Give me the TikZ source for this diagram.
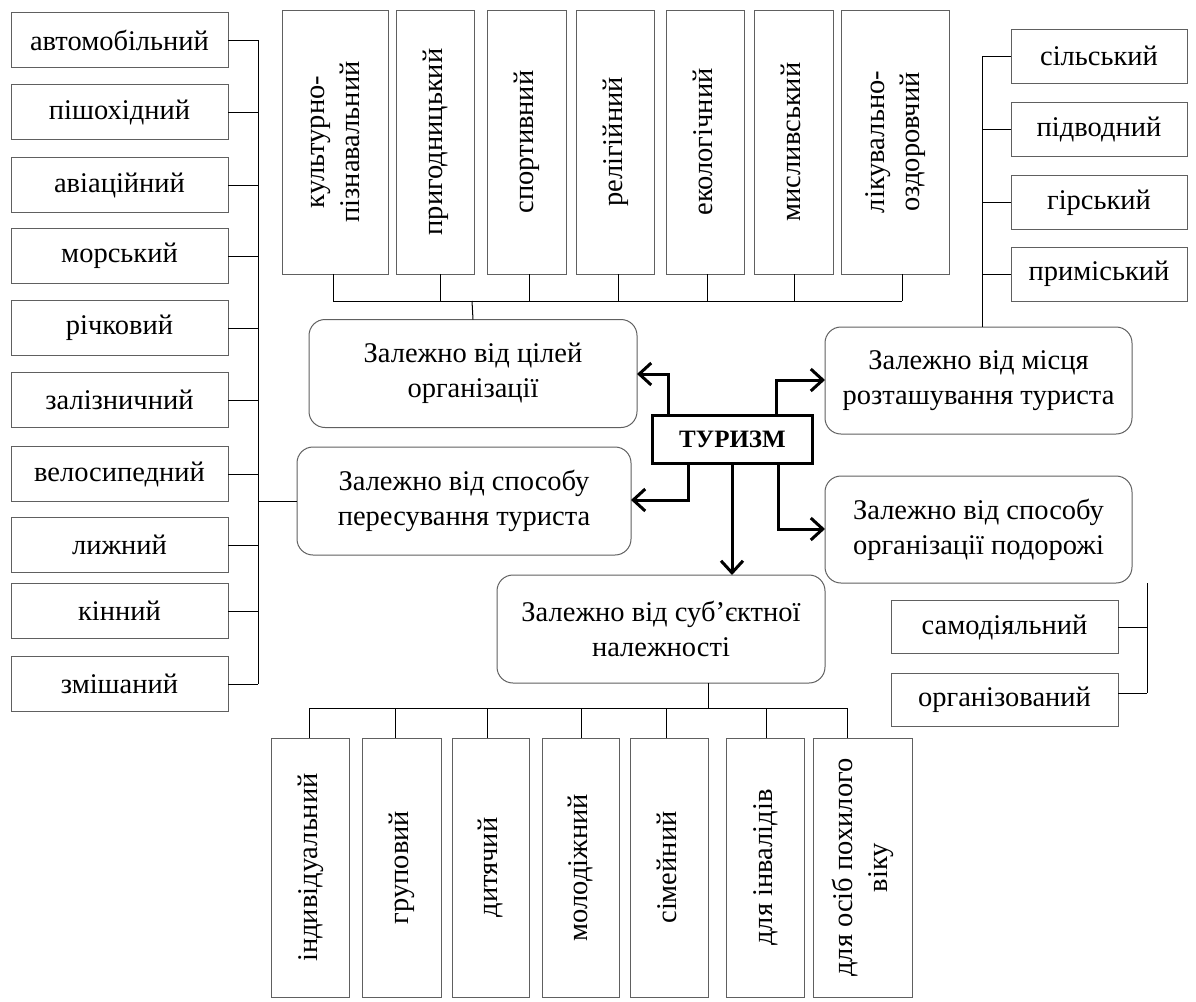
\documentclass[tikz,border=0pt]{standalone}
\usepackage{fontspec}
\setmainfont{Liberation Serif}
\usetikzlibrary{arrows.meta}
\newcommand{\vtext}[1]{\rotatebox{90}{\begin{tabular}{@{}c@{}}#1\end{tabular}}}
\begin{document}
\begin{tikzpicture}[x=1pt,y=-1pt,
  every node/.style={inner sep=0pt, outer sep=0pt},
  txt/.style={font=\fontsize{28.5}{35}\selectfont},
  hbox/.style={draw=gray!75!black, line width=1pt, fill=white, txt, align=center},
  vbox/.style={draw=gray!75!black, line width=1pt, fill=white, txt},
  rbox/.style={draw=gray!75!black, line width=1pt, rounded corners=16pt, fill=white, txt, align=center, minimum width=328pt, minimum height=108pt},
  conn/.style={draw=black, line width=1pt},
  bigarrow/.style={draw=black, line width=3pt, -{Straight Barb[length=12pt,width=22pt,line width=3pt]}}
]
\useasboundingbox (0,0) rectangle (1196,1001);

% left column
\foreach \t/\yy [count=\i] in {автомобільний/40, пішохідний/112, авіаційний/185, морський/256, річковий/328, залізничний/400, велосипедний/474, лижний/545, кінний/611, змішаний/684}{
  \node[hbox, minimum width=217pt, minimum height=55pt] (L\i) at (119.5,\yy) {\t};
}
% top column
\node[vbox, minimum width=106pt, minimum height=264pt] (T1) at (335,142) {\vtext{культурно-\\пізнавальний}};
\node[vbox, minimum width=78pt, minimum height=264pt] (T2) at (435,142) {\vtext{пригодницький}};
\node[vbox, minimum width=79pt, minimum height=264pt] (T3) at (526.5,142) {\vtext{спортивний}};
\node[vbox, minimum width=78pt, minimum height=264pt] (T4) at (615,142) {\vtext{релігійний}};
\node[vbox, minimum width=78pt, minimum height=264pt] (T5) at (705,142) {\vtext{екологічний}};
\node[vbox, minimum width=79pt, minimum height=264pt] (T6) at (793.5,142) {\vtext{мисливський}};
\node[vbox, minimum width=108pt, minimum height=264pt] (T7) at (895,142) {\vtext{лікувально-\\оздоровчий}};

% right top column
\foreach \t/\yy [count=\i] in {сільський/56, підводний/129.5, гірський/202.5, приміський/274}{
  \node[hbox, minimum width=176pt, minimum height=54pt] (R\i) at (1099,\yy) {\t};
}

% bottom right
\node[hbox, minimum width=227pt, minimum height=53pt] (S1) at (1004.5,627) {самодіяльний};
\node[hbox, minimum width=227pt, minimum height=53pt] (S2) at (1004.5,699.5) {організований};

% bottom column
\node[vbox, minimum width=78pt, minimum height=259pt] (B1) at (310,867.5) {\vtext{індивідуальний}};
\node[vbox, minimum width=79pt, minimum height=259pt] (B2) at (401.5,867.5) {\vtext{груповий}};
\node[vbox, minimum width=77pt, minimum height=259pt] (B3) at (490.5,867.5) {\vtext{дитячий}};
\node[vbox, minimum width=77pt, minimum height=259pt] (B4) at (580.5,867.5) {\vtext{молодіжний}};
\node[vbox, minimum width=78pt, minimum height=259pt] (B5) at (669,867.5) {\vtext{сімейний}};
\node[vbox, minimum width=78pt, minimum height=259pt] (B6) at (765,867.5) {\vtext{для інвалідів}};
\node[vbox, minimum width=99pt, minimum height=259pt] (B7) at (862.5,867.5) {\vtext{для осіб похилого\\віку}};

% category boxes
\node[rbox] (C1) at (473,373.5) {Залежно від цілей\\організації};
\node[rbox, minimum width=334pt] (C2) at (464,501) {Залежно від способу\\пересування туриста};
\node[rbox, minimum width=307pt, minimum height=107pt] (C3) at (978.5,380.5) {Залежно від місця\\розташування туриста};
\node[rbox, minimum width=307pt, minimum height=107pt] (C4) at (978.5,529.5) {Залежно від способу\\організації подорожі};
\node[rbox] (C5) at (661,629) {Залежно від суб’єктної\\належності};

% centre
\node[draw=black, line width=3pt, minimum width=160pt, minimum height=48pt, font=\fontsize{25}{30}\selectfont\bfseries] (TU) at (732.5,439) {ТУРИЗМ};

% arrows
\draw[bigarrow] (TU.north -| 668,0) |- (C1.east |- 0,374);
\draw[bigarrow] (TU.north -| 776,0) |- (C3.west |- 0,380);
\draw[bigarrow] (TU.south -| 688,0) |- (C2.east |- 0,500);
\draw[bigarrow] (TU.south -| 778,0) |- (C4.west |- 0,529);
\draw[bigarrow] (TU.south -| 732,0) -- (C5.north -| 732,0);

% left connectors
\coordinate (lv1) at (258,40);
\coordinate (lv2) at (258,684);
\draw[conn] (lv1) -- (lv2);
\foreach \i in {1,...,10}{ \draw[conn] (L\i.east) -- (L\i.east -| lv1); }
\draw[conn] (C2.west) -- (C2.west -| lv1);

% top connectors
\coordinate (th1) at (333,301);
\coordinate (th2) at (902,301);
\draw[conn] (th1) -- (th2);
\foreach \i/\xx in {1/333, 2/440, 3/529, 4/618, 5/707, 6/794, 7/902}{ \draw[conn] (T\i.south -| \xx,0) -- (\xx,301); }
\draw[conn] (472,301) -- (C1.north -| 473,0);

% right top connectors
\coordinate (rv1) at (982,56);
\draw[conn] (rv1) -- (C3.north -| rv1);
\foreach \i in {1,...,4}{ \draw[conn] (R\i.west) -- (R\i.west -| rv1); }

% bottom right connectors
\coordinate (sv) at (1147,693);
\draw[conn] (C4.south -| sv) -- (sv);
\draw[conn] (S1.east) -- (S1.east -| sv);
\draw[conn] (S2.east |- sv) -- (sv);

% bottom connectors
\coordinate (bh1) at (309,708);
\coordinate (bh2) at (847,708);
\draw[conn] (bh1) -- (bh2);
\draw[conn] (C5.south -| 708,0) -- (708,708);
\foreach \i/\xx in {1/309, 2/395, 3/487, 4/581, 5/666, 6/766, 7/847}{ \draw[conn] (\xx,708) -- (B\i.north -| \xx,0); }
\end{tikzpicture}
\end{document}
